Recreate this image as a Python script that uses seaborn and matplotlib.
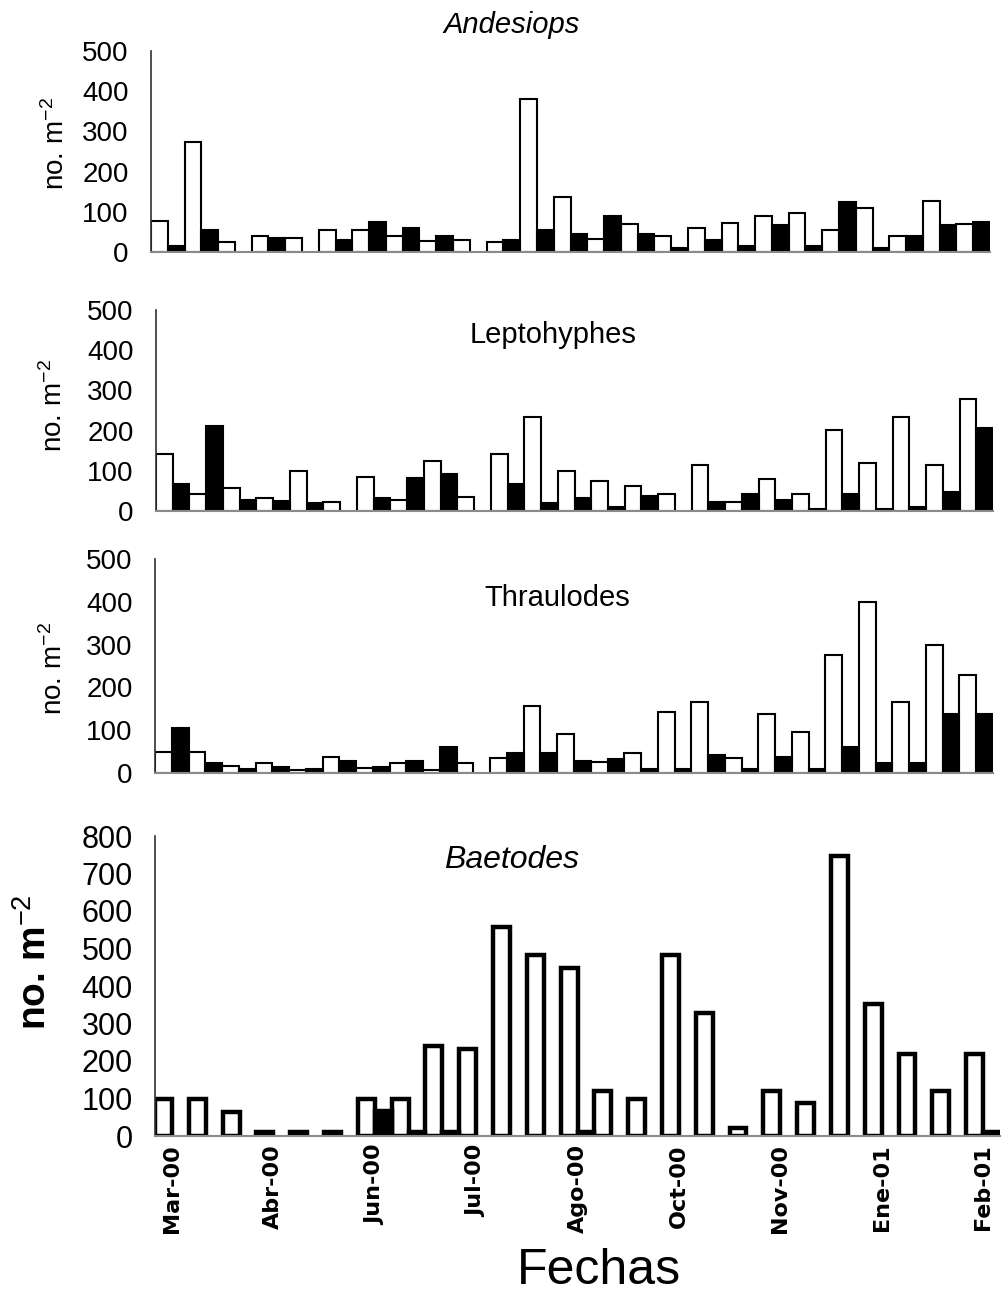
import numpy as np
import pandas as pd
import matplotlib
matplotlib.use("Agg")
import matplotlib.pyplot as plt
import seaborn as sns

# ---------------- data ----------------
muestreos = [f"M{i:02d}" for i in range(1, 26)]          # 25 sampling dates
tick_idx = [0, 3, 6, 9, 12, 15, 18, 21, 24]
tick_labels = ["Mar-00", "Abr-00", "Jun-00", "Jul-00", "Ago-00",
               "Oct-00", "Nov-00", "Ene-01", "Feb-01"]
series = ["blanco", "negro"]

andesiops_w = [78, 273, 24, 39, 34, 54, 54, 40, 28, 29, 24, 381, 138, 33, 69, 39, 60, 73, 89, 98, 54, 109, 39, 128, 69]
andesiops_b = [16, 55, 0, 34, 0, 30, 75, 60, 40, 0, 30, 55, 45, 90, 45, 9, 30, 16, 66, 16, 124, 10, 40, 66, 75]

lepto_w = [143, 42, 56, 33, 100, 23, 85, 28, 124, 36, 143, 235, 100, 75, 61, 42, 114, 22, 80, 42, 201, 120, 235, 115, 279]
lepto_b = [68, 211, 28, 24, 19, 0, 33, 81, 91, 0, 68, 19, 33, 9, 38, 0, 23, 43, 28, 4, 43, 4, 9, 48, 207]

thrau_w = [50, 50, 17, 23, 6, 37, 11, 23, 8, 23, 36, 156, 91, 25, 46, 142, 165, 35, 138, 96, 275, 399, 165, 298, 229]
thrau_b = [106, 23, 9, 13, 9, 27, 13, 27, 60, 0, 46, 46, 28, 32, 9, 9, 41, 9, 37, 9, 60, 23, 23, 138, 138]

baet_w = [100, 100, 65, 10, 10, 10, 100, 100, 241, 231, 558, 483, 449, 121, 100, 483, 329, 22, 121, 87, 747, 351, 220, 121, 220]
baet_b = [0, 0, 0, 0, 0, 0, 68, 12, 12, 0, 0, 0, 12, 0, 0, 0, 0, 0, 0, 0, 0, 0, 0, 0, 12]


def long_df(w, b):
    return pd.DataFrame({
        "muestreo": muestreos * 2,
        "serie": [series[0]] * len(muestreos) + [series[1]] * len(muestreos),
        "valor": list(w) + list(b),
    })


# ---------------- style ----------------
sns.set_style("white")
plt.rcParams["font.family"] = ["Liberation Sans", "DejaVu Sans"]
plt.rcParams["mathtext.fontset"] = "custom"
plt.rcParams["mathtext.rm"] = "Liberation Sans"
plt.rcParams["mathtext.it"] = "Liberation Sans:italic"
plt.rcParams["mathtext.bf"] = "Liberation Sans:bold"
for key in ["text.color", "axes.labelcolor", "xtick.color", "ytick.color"]:
    plt.rcParams[key] = "black"

W, H = 1001, 1300
fig = plt.figure(figsize=(W / 100, H / 100), dpi=100)


def px_axes(left, right, top, bottom):
    return fig.add_axes([left / W, 1 - bottom / H, (right - left) / W, (bottom - top) / H])


panels = [
    dict(w=andesiops_w, b=andesiops_b, box=(151, 990, 51, 252), ymax=500, lw=1.5,
         lab=(-0.113, 0.54), labsize=20),
    dict(w=lepto_w, b=lepto_b, box=(156, 993, 310, 511), ymax=500, lw=1.5,
         lab=(-0.122, 0.527), labsize=20),
    dict(w=thrau_w, b=thrau_b, box=(155, 993, 559, 773), ymax=500, lw=1.5,
         lab=(-0.1205, 0.49), labsize=20),
    dict(w=baet_w, b=baet_b, box=(155, 1000, 836, 1136), ymax=800, lw=3.2,
         lab=(-0.142, 0.58), labsize=28),
]

axes = []
for k, p in enumerate(panels):
    ax = px_axes(*p["box"])
    df = long_df(p["w"], p["b"])
    sns.barplot(data=df, x="muestreo", y="valor", hue="serie", order=muestreos,
                hue_order=series, palette=["white", "black"], edgecolor="black",
                linewidth=p["lw"], width=1.0, gap=0, errorbar=None, legend=False, ax=ax)
    # hide zero-height bars so they do not thicken the baseline
    for patch in ax.patches:
        if patch.get_height() == 0:
            patch.set_visible(False)
    ax.set_xlim(-0.5, len(muestreos) - 0.5)
    ax.set_ylim(0, p["ymax"])
    ax.set_yticks(np.arange(0, p["ymax"] + 1, 100))
    for s in ["top", "right"]:
        ax.spines[s].set_visible(False)
    ax.spines["left"].set_color("#303030")
    ax.spines["left"].set_linewidth(1.2)
    ax.spines["bottom"].set_color("#8a8a8a")
    ax.spines["bottom"].set_linewidth(1.5)
    ax.tick_params(axis="y", direction="out", length=7, width=1.2, color="#303030",
                   labelsize=20 if k < 3 else 22, pad=9)
    ax.set_xlabel("")
    if k == 3:
        ax.set_ylabel("no. m$^{-2}$", fontsize=p["labsize"], fontweight="bold",
                      family=["Liberation Sans Narrow", "Liberation Sans"], va="center")
    else:
        ax.set_ylabel("no. m$^{-2}$", fontsize=p["labsize"], va="center")
    ax.yaxis.set_label_coords(*p["lab"])
    axes.append(ax)

# x axis of the top panels: no ticks
for ax in axes[:3]:
    ax.set_xticks([])

# bottom panel date labels
axb = axes[3]
axb.set_xticks(tick_idx)
axb.set_xticklabels(tick_labels, rotation=90, fontsize=16, fontweight="bold",
                    family=["DejaVu Sans"])
axb.tick_params(axis="x", length=0, pad=6)
axb.set_xlabel("Fechas", fontsize=36)
axb.xaxis.set_label_coords(0.525, -0.375)

# panel titles
fig.text(512 / W, 1 - 25 / H, "Andesiops", fontsize=21, style="italic", ha="center", va="center")
fig.text(553 / W, 1 - 335 / H, "Leptohyphes", fontsize=21, ha="center", va="center")
fig.text(557 / W, 1 - 598 / H, "Thraulodes", fontsize=21, ha="center", va="center")
fig.text(512 / W, 1 - 860 / H, "Baetodes", fontsize=23, style="italic", ha="center", va="center")

fig.savefig("out.png", dpi=100)
